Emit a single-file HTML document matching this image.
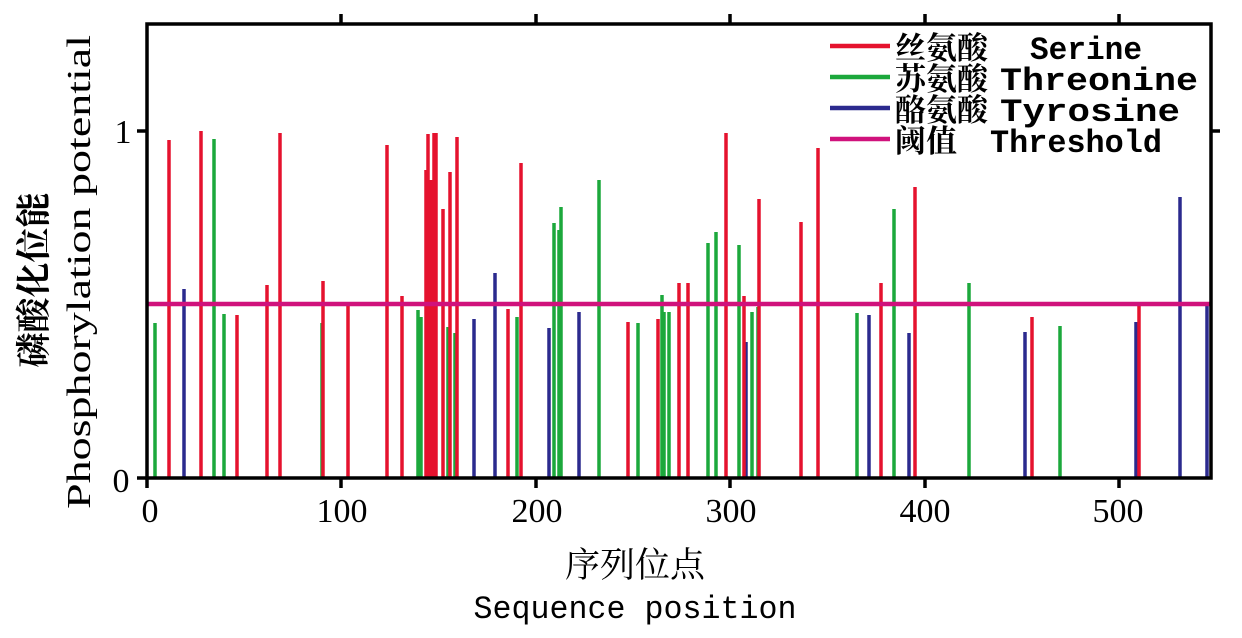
<!DOCTYPE html>
<html><head><meta charset="utf-8"><style>
html,body{margin:0;padding:0;background:#fff;}
svg{display:block;}
</style></head><body>
<svg width="1242" height="638" viewBox="0 0 1242 638" xmlns="http://www.w3.org/2000/svg">
<g stroke-width="3.5" fill="none">
<g stroke="#1ca83c">
<line x1="155" y1="478" x2="155" y2="323"/>
<line x1="214" y1="478" x2="214" y2="139"/>
<line x1="224" y1="478" x2="224" y2="314"/>
<line x1="322" y1="478" x2="322" y2="323"/>
<line x1="418" y1="478" x2="418" y2="310"/>
<line x1="421" y1="478" x2="421" y2="317"/>
<line x1="448" y1="478" x2="448" y2="327"/>
<line x1="455" y1="478" x2="455" y2="333"/>
<line x1="517" y1="478" x2="517" y2="317"/>
<line x1="554" y1="478" x2="554" y2="223"/>
<line x1="559" y1="478" x2="559" y2="230"/>
<line x1="561" y1="478" x2="561" y2="207"/>
<line x1="599" y1="478" x2="599" y2="180"/>
<line x1="638" y1="478" x2="638" y2="323"/>
<line x1="662" y1="478" x2="662" y2="295"/>
<line x1="664" y1="478" x2="664" y2="312"/>
<line x1="669" y1="478" x2="669" y2="312"/>
<line x1="708" y1="478" x2="708" y2="243"/>
<line x1="716" y1="478" x2="716" y2="232"/>
<line x1="739" y1="478" x2="739" y2="245"/>
<line x1="752" y1="478" x2="752" y2="312"/>
<line x1="758" y1="478" x2="758" y2="307"/>
<line x1="857" y1="478" x2="857" y2="313"/>
<line x1="894" y1="478" x2="894" y2="209"/>
<line x1="969" y1="478" x2="969" y2="283"/>
<line x1="1060" y1="478" x2="1060" y2="326"/>
</g>
<g stroke="#2b2a8e">
<line x1="184" y1="478" x2="184" y2="289"/>
<line x1="474" y1="478" x2="474" y2="319"/>
<line x1="495" y1="478" x2="495" y2="273"/>
<line x1="549" y1="478" x2="549" y2="328"/>
<line x1="579" y1="478" x2="579" y2="312"/>
<line x1="746" y1="478" x2="746" y2="342"/>
<line x1="869" y1="478" x2="869" y2="315"/>
<line x1="909" y1="478" x2="909" y2="333"/>
<line x1="1025" y1="478" x2="1025" y2="332"/>
<line x1="1136" y1="478" x2="1136" y2="322"/>
<line x1="1180" y1="478" x2="1180" y2="197"/>
<line x1="1207" y1="478" x2="1207" y2="305"/>
</g>
<g stroke="#e5122e">
<line x1="169" y1="478" x2="169" y2="140"/>
<line x1="201" y1="478" x2="201" y2="131"/>
<line x1="237" y1="478" x2="237" y2="315"/>
<line x1="267" y1="478" x2="267" y2="285"/>
<line x1="280" y1="478" x2="280" y2="133"/>
<line x1="323" y1="478" x2="323" y2="281"/>
<line x1="348" y1="478" x2="348" y2="304"/>
<line x1="387" y1="478" x2="387" y2="145"/>
<line x1="402" y1="478" x2="402" y2="296"/>
<line x1="426" y1="478" x2="426" y2="170"/>
<line x1="428" y1="478" x2="428" y2="134"/>
<line x1="431" y1="478" x2="431" y2="180"/>
<line x1="434" y1="478" x2="434" y2="133"/>
<line x1="436" y1="478" x2="436" y2="133"/>
<line x1="443" y1="478" x2="443" y2="209"/>
<line x1="450" y1="478" x2="450" y2="172"/>
<line x1="457" y1="478" x2="457" y2="137"/>
<line x1="508" y1="478" x2="508" y2="309"/>
<line x1="521" y1="478" x2="521" y2="163"/>
<line x1="628" y1="478" x2="628" y2="322"/>
<line x1="658" y1="478" x2="658" y2="319"/>
<line x1="679" y1="478" x2="679" y2="283"/>
<line x1="688" y1="478" x2="688" y2="283"/>
<line x1="726" y1="478" x2="726" y2="133"/>
<line x1="744" y1="478" x2="744" y2="296"/>
<line x1="759" y1="478" x2="759" y2="199"/>
<line x1="801" y1="478" x2="801" y2="222"/>
<line x1="818" y1="478" x2="818" y2="148"/>
<line x1="881" y1="478" x2="881" y2="283"/>
<line x1="915" y1="478" x2="915" y2="187"/>
<line x1="1032" y1="478" x2="1032" y2="317"/>
<line x1="1139" y1="478" x2="1139" y2="305"/>
</g>
<line x1="148" y1="304" x2="1211" y2="304" stroke="#d0127c" stroke-width="4.5"/>
<rect x="147" y="24" width="1064" height="454" stroke="#000" stroke-width="3.5"/>
<g stroke="#000" stroke-width="3.5">
<line x1="147" y1="478" x2="147" y2="488"/>
<line x1="341" y1="478" x2="341" y2="488"/>
<line x1="536" y1="478" x2="536" y2="488"/>
<line x1="730" y1="478" x2="730" y2="488"/>
<line x1="925" y1="478" x2="925" y2="488"/>
<line x1="1119" y1="478" x2="1119" y2="488"/>
<line x1="341" y1="24" x2="341" y2="14"/>
<line x1="536" y1="24" x2="536" y2="14"/>
<line x1="730" y1="24" x2="730" y2="14"/>
<line x1="925" y1="24" x2="925" y2="14"/>
<line x1="1119" y1="24" x2="1119" y2="14"/>
<line x1="147" y1="131" x2="137" y2="131"/>
<line x1="147" y1="478" x2="137" y2="478"/>
<line x1="1211" y1="131" x2="1220" y2="131"/>
</g>
<line x1="830" y1="46" x2="890" y2="46" stroke="#e5122e" stroke-width="4.5"/>
<line x1="830" y1="77" x2="890" y2="77" stroke="#1ca83c" stroke-width="4.5"/>
<line x1="830" y1="108" x2="890" y2="108" stroke="#2b2a8e" stroke-width="4.5"/>
<line x1="830" y1="139" x2="890" y2="139" stroke="#d0127c" stroke-width="4.5"/>
</g>
<g font-family="'Noto Serif CJK SC', serif" font-size="31" font-weight="bold" fill="#000">
<text x="895" y="59">丝氨酸</text>
<text x="895" y="90">苏氨酸</text>
<text x="895" y="121">酪氨酸</text>
<text x="895" y="152">阈值</text>
</g>
<g font-family="Liberation Mono, monospace" font-size="32" font-weight="bold" fill="#000">
<text x="1030" y="59" textLength="112" lengthAdjust="spacingAndGlyphs">Serine</text>
<text x="1000" y="90" textLength="198" lengthAdjust="spacingAndGlyphs">Threonine</text>
<text x="1000" y="121" textLength="180" lengthAdjust="spacingAndGlyphs">Tyrosine</text>
<text x="990" y="152" textLength="172" lengthAdjust="spacingAndGlyphs">Threshold</text>
</g>
<g font-family="Liberation Serif, serif" font-size="34" fill="#000" text-anchor="middle">
<text x="150" y="522">0</text>
<text x="342" y="522">100</text>
<text x="537" y="522">200</text>
<text x="731" y="522">300</text>
<text x="925" y="522">400</text>
<text x="1118" y="522">500</text>
<text x="123" y="143">1</text>
<text x="121" y="492">0</text>
</g>
<text x="635" y="577" text-anchor="middle" font-family="'Noto Serif CJK SC', serif" font-size="35">序列位点</text>
<text x="635" y="618" text-anchor="middle" font-family="Liberation Mono, monospace" font-size="32" textLength="323" lengthAdjust="spacingAndGlyphs">Sequence position</text>
<g transform="translate(46,280) rotate(-90)">
<text x="0" y="0" text-anchor="middle" font-family="'Noto Serif CJK SC', serif" font-size="35" font-weight="bold">磷酸化位能</text>
</g>
<g transform="translate(90,272) rotate(-90)">
<text x="0" y="0" text-anchor="middle" font-family="Liberation Serif, serif" font-size="34" textLength="474" lengthAdjust="spacingAndGlyphs">Phosphorylation potential</text>
</g>
</svg>
</body></html>
